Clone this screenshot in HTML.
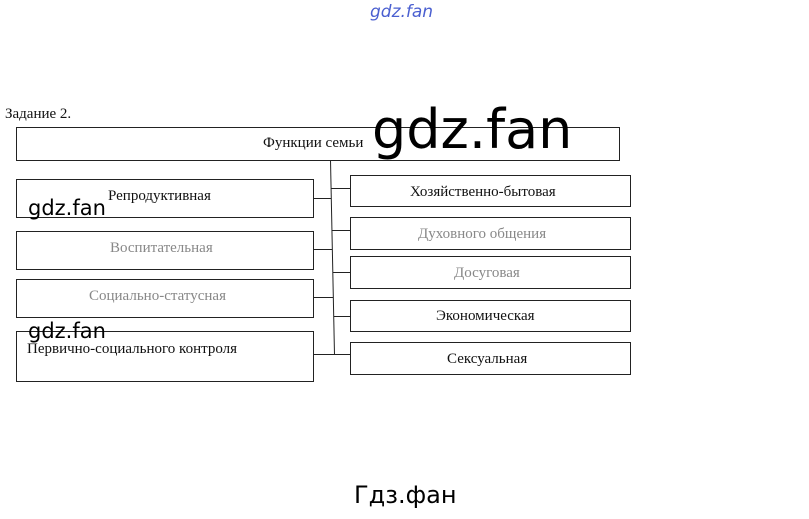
<!DOCTYPE html>
<html><head><meta charset="utf-8"><style>
body{margin:0;background:#fff;width:809px;height:514px;overflow:hidden}
.t{font-family:"Liberation Serif",serif;font-size:15px;fill:#111}
.w{font-family:"DejaVu Sans","Liberation Sans",sans-serif;fill:#000}
</style></head><body>
<svg width="809" height="514" xmlns="http://www.w3.org/2000/svg">
<g fill="none" stroke="#222" stroke-width="1">
<rect x="16.5" y="127.5" width="603" height="33"/>
<rect x="16.5" y="179.5" width="297" height="38"/>
<rect x="16.5" y="231.5" width="297" height="38"/>
<rect x="16.5" y="279.5" width="297" height="38"/>
<rect x="16.5" y="331.5" width="297" height="50"/>
<rect x="350.5" y="175.5" width="280" height="31"/>
<rect x="350.5" y="217.5" width="280" height="32"/>
<rect x="350.5" y="256.5" width="280" height="32"/>
<rect x="350.5" y="300.5" width="280" height="31"/>
<rect x="350.5" y="342.5" width="280" height="32"/>
<path d="M330.5 160 L334.5 355"/>
<path d="M313 198.5H331M313 249.5H332M313 297.5H333M313 354.5H350"/>
<path d="M331 188.5H350M332 230.5H350M333 272.5H350M334 316.5H350"/>
</g>
<g class="t">
<text x="5" y="118">Задание 2.</text>
<text x="263" y="147">Функции семьи</text>
<text x="108" y="200">Репродуктивная</text>
<text x="110" y="252" style="fill:#888">Воспитательная</text>
<text x="89" y="300" style="fill:#888">Социально-статусная</text>
<text x="27" y="353">Первично-социального контроля</text>
<text x="410" y="196">Хозяйственно-бытовая</text>
<text x="418" y="238" style="fill:#888">Духовного общения</text>
<text x="454" y="277" style="fill:#888">Досуговая</text>
<text x="436" y="320">Экономическая</text>
<text x="447" y="363">Сексуальная</text>
</g>
<text class="w" x="372" y="148" style="font-size:54px">gdz.fan</text>
<text class="w" x="28" y="215" style="font-size:21px">gdz.fan</text>
<text class="w" x="28" y="338" style="font-size:21px">gdz.fan</text>
<text class="w" x="370" y="17" style="font-size:17px;fill:#4a5fd0;font-style:italic">gdz.fan</text>
<text class="w" x="354" y="503" style="font-size:24px">Гдз.фан</text>
</svg>
</body></html>
